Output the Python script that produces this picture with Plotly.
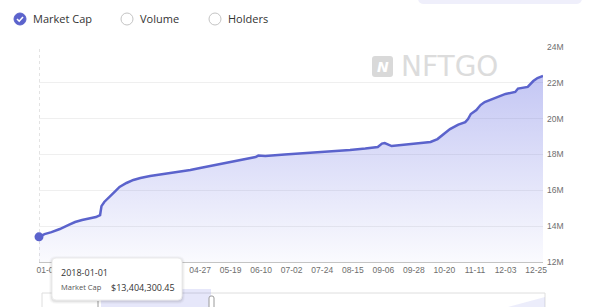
import plotly.graph_objects as go

# ---- data ----
dates = ["2018-01-01", "2018-01-05", "2018-01-10", "2018-01-16", "2018-01-22", "2018-01-27",
         "2018-02-01", "2018-02-07", "2018-02-11", "2018-02-14", "2018-02-15", "2018-02-17",
         "2018-02-21", "2018-02-25", "2018-02-28", "2018-03-05", "2018-03-10", "2018-03-15",
         "2018-03-22", "2018-03-29", "2018-04-09", "2018-04-20", "2018-04-27", "2018-05-08",
         "2018-05-19", "2018-05-29", "2018-06-06", "2018-06-08", "2018-06-13", "2018-06-27",
         "2018-07-15", "2018-07-30", "2018-08-13", "2018-08-24", "2018-09-02", "2018-09-05",
         "2018-09-07", "2018-09-12", "2018-09-23", "2018-10-10", "2018-10-15", "2018-10-18",
         "2018-10-24", "2018-10-30", "2018-11-04", "2018-11-06", "2018-11-08", "2018-11-12",
         "2018-11-15", "2018-11-18", "2018-11-22", "2018-11-27", "2018-12-03", "2018-12-10",
         "2018-12-12", "2018-12-19", "2018-12-23", "2018-12-26", "2018-12-30"]
market_cap = [13404300.45, 13560000, 13670000, 13840000, 14060000, 14230000,
              14340000, 14460000, 14510000, 14620000, 15120000, 15350000,
              15680000, 15960000, 16190000, 16410000, 16580000, 16690000,
              16800000, 16880000, 16990000, 17130000, 17250000, 17410000,
              17580000, 17750000, 17860000, 17940000, 17920000, 18000000,
              18080000, 18170000, 18250000, 18330000, 18420000, 18610000,
              18640000, 18470000, 18560000, 18700000, 18860000, 19030000,
              19420000, 19670000, 19810000, 19980000, 20260000, 20480000,
              20760000, 20930000, 21040000, 21210000, 21380000, 21490000,
              21680000, 21770000, 22100000, 22270000, 22380000]
# visible tick labels (those under the tooltip are hidden in the reference)
tick_dates = ["2018-01-07", "2018-04-27", "2018-05-19", "2018-06-10", "2018-07-02", "2018-07-24",
              "2018-08-15", "2018-09-06", "2018-09-28", "2018-10-20", "2018-11-11", "2018-12-03",
              "2018-12-25"]
legend_items = ["Market Cap", "Volume", "Holders"]
tooltip_date = "2018-01-01"
tooltip_label = "Market Cap"
tooltip_value = "$13,404,300.45"

# ---- layout geometry (pixels) ----
W, H = 600, 307
L, R, T, B = 39, 543, 47, 262
LINE = "#5b63cc"


def px(x):
    return (x - L) / (R - L)


def py(y):
    return (B - y) / (B - T)


def rrect(x0, y0, x1, y1, r):
    return (f"M {px(x0 + r)} {py(y0)} L {px(x1 - r)} {py(y0)} Q {px(x1)} {py(y0)} {px(x1)} {py(y0 + r)} "
            f"L {px(x1)} {py(y1 - r)} Q {px(x1)} {py(y1)} {px(x1 - r)} {py(y1)} "
            f"L {px(x0 + r)} {py(y1)} Q {px(x0)} {py(y1)} {px(x0)} {py(y1 - r)} "
            f"L {px(x0)} {py(y0 + r)} Q {px(x0)} {py(y0)} {px(x0 + r)} {py(y0)} Z")


fig = go.Figure()
fig.add_trace(go.Scatter(
    x=dates, y=market_cap, mode="lines",
    line=dict(color=LINE, width=2.5),
    fill="tozeroy",
    fillgradient=dict(type="vertical", start=12e6, stop=22.4e6,
                      colorscale=[[0, "rgba(99,106,225,0.03)"], [1, "rgba(99,106,225,0.38)"]]),
    hoverinfo="skip",
))
fig.add_trace(go.Scatter(
    x=[dates[0]], y=[market_cap[0]], mode="markers", cliponaxis=False,
    marker=dict(color=LINE, size=9), hoverinfo="skip",
))

shapes = []
annotations = []

# axis pointer
shapes.append(dict(type="line", xref="x", yref="paper", x0=dates[0], x1=dates[0], y0=0, y1=1,
                   line=dict(color="#c8c8c8", width=1, dash="dot"), layer="below"))

# top-right pill (cut off)
shapes.append(dict(type="path", xref="paper", yref="paper", path=rrect(418, -12, 582, 4, 6),
                   fillcolor="#efeffb", line=dict(width=0)))

# legend (radio style)
cy = 19
circles = [(20, True), (127, False), (215, False)]
for (cx, on), label in zip(circles, legend_items):
    r = 6
    shapes.append(dict(type="circle", xref="paper", yref="paper",
                       x0=px(cx - r), x1=px(cx + r), y0=py(cy + r), y1=py(cy - r),
                       fillcolor=LINE if on else "white",
                       line=dict(color=LINE if on else "#c4c4c4", width=1)))
    if on:
        shapes.append(dict(type="path", xref="paper", yref="paper",
                           path=f"M {px(cx - 3)} {py(cy)} L {px(cx - 0.8)} {py(cy + 2.2)} L {px(cx + 3)} {py(cy - 2)}",
                           line=dict(color="white", width=1.6)))
    annotations.append(dict(text=label, xref="paper", yref="paper", x=px(cx + 11), y=py(cy),
                            xanchor="left", yanchor="middle", showarrow=False,
                            font=dict(family="Open Sans", size=11, color="#333")))

# watermark
shapes.append(dict(type="path", xref="paper", yref="paper", path=rrect(372, 56, 393, 77, 3),
                   fillcolor="#d9d9d9", line=dict(width=0)))
annotations.append(dict(text="<b><i>N</i></b>", xref="paper", yref="paper", x=px(382.5), y=py(66.5),
                        xanchor="center", yanchor="middle", showarrow=False,
                        font=dict(family="DejaVu Sans", size=14, color="white")))
annotations.append(dict(text="NFTGO", xref="paper", yref="paper", x=px(399), y=py(66.5),
                        xanchor="left", yanchor="middle", showarrow=False,
                        font=dict(family="DejaVu Sans", size=28, color="#dcdcdc")))

# data-zoom slider
shapes.append(dict(type="rect", xref="paper", yref="paper", x0=px(42), x1=px(545), y0=py(293), y1=py(312),
                   fillcolor="white", line=dict(color="#dedede", width=1)))
shapes.append(dict(type="path", xref="paper", yref="paper",
                   path=f"M {px(508)} {py(307)} L {px(545)} {py(297)} L {px(545)} {py(307)} Z",
                   fillcolor="rgba(99,106,225,0.12)", line=dict(width=0)))
shapes.append(dict(type="rect", xref="paper", yref="paper", x0=px(101), x1=px(211), y0=py(289), y1=py(312),
                   fillcolor="rgba(99,106,225,0.16)", line=dict(width=0)))
shapes.append(dict(type="line", xref="paper", yref="paper", x0=px(98), x1=px(98), y0=py(301), y1=py(312),
                   line=dict(color="#9a9a9a", width=1)))
shapes.append(dict(type="path", xref="paper", yref="paper", path=rrect(209, 296, 214, 312, 2),
                   fillcolor="white", line=dict(color="#9a9a9a", width=1)))

# tooltip
for grow, alpha in [(3, 0.025), (2, 0.035), (1, 0.05)]:
    shapes.append(dict(type="path", xref="paper", yref="paper",
                       path=rrect(52 - grow, 258 - grow + 1, 182 + grow, 300 + grow + 1, 4 + grow),
                       fillcolor=f"rgba(0,0,0,{alpha})", line=dict(width=0)))
shapes.append(dict(type="path", xref="paper", yref="paper", path=rrect(52, 258, 182, 300, 4),
                   fillcolor="white", line=dict(color="#ececec", width=1)))
annotations.append(dict(text=tooltip_date, xref="paper", yref="paper", x=px(59), y=py(272),
                        xanchor="left", yanchor="middle", showarrow=False,
                        font=dict(family="Open Sans", size=9, color="#333")))
annotations.append(dict(text=tooltip_label, xref="paper", yref="paper", x=px(59), y=py(287),
                        xanchor="left", yanchor="middle", showarrow=False,
                        font=dict(family="Open Sans", size=7.5, color="#555")))
annotations.append(dict(text=tooltip_value, xref="paper", yref="paper", x=px(109), y=py(287),
                        xanchor="left", yanchor="middle", showarrow=False,
                        font=dict(family="Open Sans", size=9, color="#333")))

fig.update_layout(
    width=W, height=H,
    margin=dict(l=L, r=W - R, t=T, b=H - B),
    paper_bgcolor="white", plot_bgcolor="white",
    showlegend=False, hovermode=False,
    shapes=shapes, annotations=annotations,
    xaxis=dict(type="date", range=[dates[0], dates[-1]], tickvals=tick_dates, tickformat="%m-%d",
               showgrid=False, showline=True, linecolor="#c4c4c4", linewidth=1, ticks="",
               tickfont=dict(family="Liberation Sans", size=8.5, color="#6e6e6e"), zeroline=False),
    yaxis=dict(side="right", range=[12e6, 24e6], dtick=2e6, tickformat="~s",
               showgrid=True, gridcolor="#efefef", gridwidth=1, zeroline=False, ticks="",
               ticklabelstandoff=3,
               tickfont=dict(family="Liberation Sans", size=8.5, color="#6e6e6e")),
)

fig.write_html("out.html")
